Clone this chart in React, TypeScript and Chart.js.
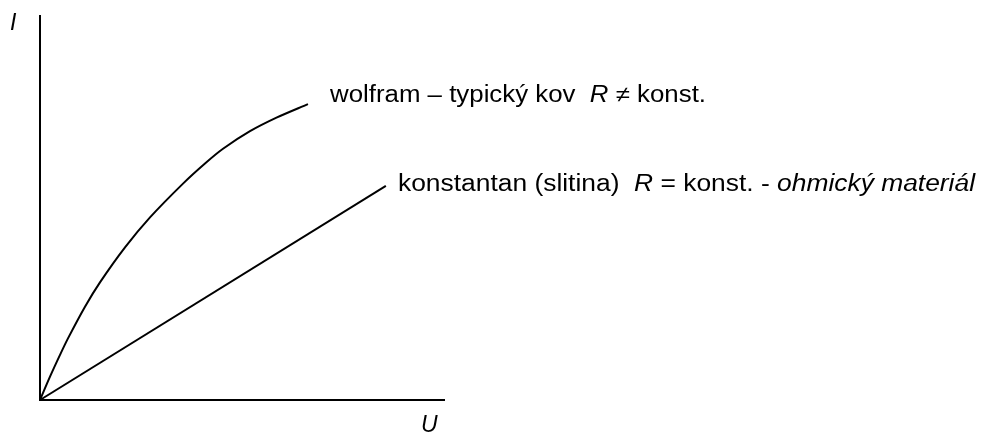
import React, { useEffect, useRef } from "react";
import { Chart, registerables } from "chart.js";

Chart.register(...registerables);

// U (x) and I (y) in relative units 0..100
const wolframU = [0, 2.47, 4.94, 6.91, 11.11, 14.81, 20.99, 27.16, 35.31, 40.74, 45.19, 51.85, 58.52, 66.17];
const wolframI = [0, 6.05, 11.71, 16.0, 24.23, 30.55, 39.64, 47.43, 56.21, 61.43, 65.25, 69.82, 73.4, 76.86];
const konstantanU = [0, 85.4];
const konstantanI = [0, 55.6];

const axisLabelX = "U";
const axisLabelY = "I";

type Seg = { t: string; it: boolean };
const wolframLabel: Seg[] = [
  { t: "wolfram – typický kov  ", it: false },
  { t: "R", it: true },
  { t: " ≠ konst.", it: false },
];
const konstantanLabel: Seg[] = [
  { t: "konstantan (slitina)  ", it: false },
  { t: "R", it: true },
  { t: " = konst. - ", it: false },
  { t: "ohmický materiál", it: true },
];

const FONT = '"Liberation Sans", Arial, sans-serif';
const FS = 23;

function drawSegs(ctx: CanvasRenderingContext2D, segs: Seg[], x: number, y: number, targetW: number) {
  let total = 0;
  const widths: number[] = [];
  for (const s of segs) {
    ctx.font = `${s.it ? "italic " : ""}${FS}px ${FONT}`;
    const w = ctx.measureText(s.t).width;
    widths.push(w);
    total += w;
  }
  const sx = targetW / total;
  ctx.save();
  ctx.translate(x, y);
  ctx.scale(sx, 1);
  let cx = 0;
  segs.forEach((s, i) => {
    ctx.font = `${s.it ? "italic " : ""}${FS}px ${FONT}`;
    ctx.fillText(s.t, cx, 0);
    cx += widths[i];
  });
  ctx.restore();
}

const decorPlugin = {
  id: "decor",
  afterDatasetsDraw(chart: any) {
    const ctx: CanvasRenderingContext2D = chart.ctx;
    const xs = chart.scales.x;
    const ys = chart.scales.y;
    const x0 = xs.getPixelForValue(0);
    const x1 = xs.getPixelForValue(100);
    const y0 = ys.getPixelForValue(0);
    const y1 = ys.getPixelForValue(100);
    ctx.save();
    ctx.strokeStyle = "#000";
    ctx.lineWidth = 2;
    ctx.beginPath();
    ctx.moveTo(x0, y1);
    ctx.lineTo(x0, y0);
    ctx.lineTo(x1, y0);
    ctx.stroke();

    ctx.fillStyle = "#000";
    ctx.textBaseline = "alphabetic";
    ctx.textAlign = "left";
    ctx.font = `italic ${FS}px ${FONT}`;
    ctx.fillText(axisLabelY, 10, 30);
    ctx.fillText(axisLabelX, 421, 432);

    drawSegs(ctx, wolframLabel, 330, 101.5, 376);
    drawSegs(ctx, konstantanLabel, 398, 191, 577);
    ctx.restore();
  },
};

export default function App() {
  const ref = useRef<HTMLCanvasElement | null>(null);
  useEffect(() => {
    if (!ref.current) return;
    const chart = new Chart(ref.current, {
      type: "line",
      data: {
        datasets: [
          {
            label: "wolfram",
            data: wolframU.map((u, i) => ({ x: u, y: wolframI[i] })),
            borderColor: "#000",
            borderWidth: 2,
            pointRadius: 0,
            tension: 0.3,
            fill: false,
            clip: false as any,
          },
          {
            label: "konstantan",
            data: konstantanU.map((u, i) => ({ x: u, y: konstantanI[i] })),
            borderColor: "#000",
            borderWidth: 2,
            pointRadius: 0,
            fill: false,
            clip: false as any,
          },
        ],
      },
      plugins: [decorPlugin],
      options: {
        responsive: false,
        animation: false,
        events: [],
        layout: { padding: { left: 40, right: 537, top: 15, bottom: 37 } },
        scales: {
          x: { type: "linear", min: 0, max: 100, display: false },
          y: { type: "linear", min: 0, max: 100, display: false },
        },
        plugins: { legend: { display: false }, tooltip: { enabled: false } },
      },
    });
    return () => chart.destroy();
  }, []);
  return (
    <div style={{ position: "absolute", left: 0, top: 0, width: 982, height: 437, background: "#fff" }}>
      <canvas ref={ref} width={982} height={437} />
    </div>
  );
}
